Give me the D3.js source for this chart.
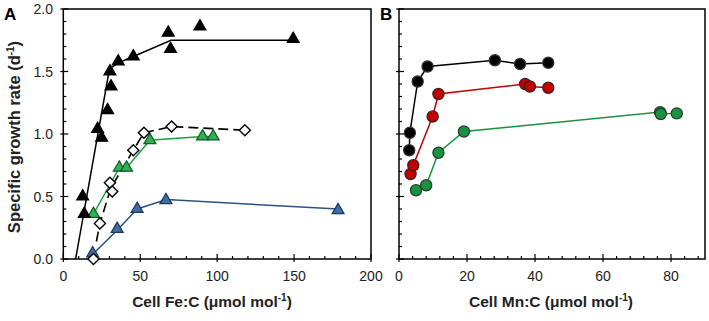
<!DOCTYPE html>
<html><head><meta charset="utf-8">
<script src="https://cdn.jsdelivr.net/npm/d3@7"></script>
<style>
html,body{margin:0;padding:0;background:#fff;}
svg{display:block;font-family:"Liberation Sans",Arial,sans-serif;}
</style></head>
<body>
<svg id="chart" width="709" height="321"></svg>
<script>
// ---------- data ----------
const feTicks = [0, 50, 100, 150, 200];
const mnTicks = [0, 20, 40, 60, 80];
const rateTicks = [0.0, 0.5, 1.0, 1.5, 2.0];

// Panel A (Fe:C)
const feBlackX = [12.6, 13.6, 22.3, 24.9, 28.8, 31.0, 30.3, 35.7, 45.5, 68.2, 69.7, 88.8, 149.4];
const feBlackY = [0.50, 0.36, 1.04, 0.97, 1.19, 1.38, 1.50, 1.58, 1.62, 1.81, 1.68, 1.86, 1.76];
const feBlackFitX = [8, 30, 36, 45.5, 70, 150];
const feBlackFitY = [0, 1.52, 1.57, 1.62, 1.75, 1.75];

const feGreenX = [19.6, 36.4, 41.1, 56.3, 90.5, 97.4];
const feGreenY = [0.36, 0.73, 0.73, 0.95, 0.98, 0.98];

const feOpenX = [19.6, 23.8, 30.3, 31.8, 45.5, 52.4, 70.4, 118];
const feOpenY = [0.0, 0.285, 0.61, 0.54, 0.87, 1.01, 1.06, 1.03];
const feOpenFitX = [21.5, 23.8, 31.0, 45.5, 52.4, 70.4, 118];
const feOpenFitY = [0.14, 0.285, 0.57, 0.87, 1.01, 1.06, 1.03];

const feBlueX = [19.1, 35.0, 48.0, 66.7, 178.6];
const feBlueY = [0.045, 0.24, 0.40, 0.47, 0.39];
const feBlueFitX = [16, 35, 48, 67, 179];
const feBlueFitY = [0, 0.23, 0.40, 0.475, 0.40];

// Panel B (Mn:C)
const mnBlackX = [3.0, 3.2, 5.5, 8.4, 28.2, 35.6, 43.9];
const mnBlackY = [0.87, 1.01, 1.42, 1.54, 1.59, 1.56, 1.57];
const mnRedX = [3.4, 4.2, 9.9, 11.6, 37.1, 38.5, 43.9];
const mnRedY = [0.68, 0.75, 1.14, 1.32, 1.40, 1.38, 1.37];
const mnGreenX = [5.0, 8.0, 11.6, 19.1, 76.8, 77.0, 81.7];
const mnGreenY = [0.55, 0.59, 0.85, 1.02, 1.175, 1.16, 1.165];

// ---------- drawing ----------
const svg = d3.select("#chart");
const zip = (xs, ys) => xs.map((x, i) => [x, ys[i]]);

const plotTop = 9, plotBottom = 259;
const y = d3.scaleLinear().domain([0, 2]).range([plotBottom, plotTop]);
const xA = d3.scaleLinear().domain([0, 200]).range([63.3, 371]);
const xB = d3.scaleLinear().domain([0, 90]).range([399, 705]);

function frame(x) {
  const g = svg.append("g");
  const [x0, x1] = x.range();
  g.append("rect").attr("x", x0).attr("y", plotTop).attr("width", x1 - x0).attr("height", plotBottom - plotTop)
    .attr("fill", "none").attr("stroke", "#000").attr("stroke-width", 1.5);
  return g;
}

function xTicks(g, x, major, minorStep, labels) {
  const [d0, d1] = x.domain();
  const minors = d3.range(d0, d1 + 1e-9, minorStep);
  g.selectAll(null).data(minors).enter().append("line")
    .attr("x1", d => x(d)).attr("x2", d => x(d))
    .attr("y1", plotBottom).attr("y2", d => major.includes(d) ? plotBottom - 5 : plotBottom - 3)
    .attr("stroke", "#000").attr("stroke-width", 1.2);
  g.selectAll(null).data(major).enter().append("line")
    .attr("x1", d => x(d)).attr("x2", d => x(d))
    .attr("y1", plotBottom).attr("y2", plotBottom + 3)
    .attr("stroke", "#000").attr("stroke-width", 1.2);
  if (labels) {
    g.selectAll(null).data(major).enter().append("text")
      .attr("x", d => x(d)).attr("y", 281).attr("text-anchor", "middle")
      .attr("font-size", 14).attr("fill", "#222").text(d => d);
  }
}

function yTicks(g, x0, labels) {
  const minors = d3.range(0, 2.0001, 0.1);
  g.selectAll(null).data(minors).enter().append("line")
    .attr("x1", x0).attr("x2", d => Math.abs(d * 2 - Math.round(d * 2)) < 1e-6 ? x0 + 5 : x0 + 3)
    .attr("y1", d => y(d)).attr("y2", d => y(d))
    .attr("stroke", "#000").attr("stroke-width", 1.2);
  g.selectAll(null).data(rateTicks).enter().append("line")
    .attr("x1", x0 - 3).attr("x2", x0)
    .attr("y1", d => y(d)).attr("y2", d => y(d))
    .attr("stroke", "#000").attr("stroke-width", 1.2);
  if (labels) {
    g.selectAll(null).data(rateTicks).enter().append("text")
      .attr("x", 53).attr("y", d => y(d) + 5).attr("text-anchor", "end")
      .attr("font-size", 14).attr("fill", "#222").text(d => d.toFixed(1));
  }
}

function line(g, x, pts, color, width, dash) {
  g.append("path").datum(pts)
    .attr("d", d3.line().x(d => x(d[0])).y(d => y(d[1])))
    .attr("fill", "none").attr("stroke", color).attr("stroke-width", width)
    .attr("stroke-dasharray", dash || null);
}

function markers(g, x, pts, type, size, fill, stroke, rot, sw) {
  g.selectAll(null).data(pts).enter().append("path")
    .attr("d", d3.symbol().type(type).size(size))
    .attr("transform", d => `translate(${x(d[0])},${y(d[1])})` + (rot ? ` rotate(${rot})` : ""))
    .attr("fill", fill).attr("stroke", stroke).attr("stroke-width", sw || 1.2);
}

// Panel A
const gA = frame(xA);
xTicks(gA, xA, feTicks, 10, true);
yTicks(gA, 63.3, true);
line(gA, xA, zip(feBlueFitX, feBlueFitY), "#2c5282", 1.5);
line(gA, xA, zip(feGreenX, feGreenY), "#1f9e3f", 1.5);
line(gA, xA, zip(feOpenFitX, feOpenFitY), "#000", 1.6, "10,5");
line(gA, xA, zip(feBlackFitX, feBlackFitY), "#000", 1.5);
markers(gA, xA, zip(feBlueX, feBlueY), d3.symbolTriangle, 62, "#3c6eac", "#1d3657");
markers(gA, xA, zip(feGreenX, feGreenY), d3.symbolTriangle, 62, "#2cb34f", "#155a2a");
markers(gA, xA, zip(feOpenX, feOpenY), d3.symbolSquare, 62, "#fff", "#000", 45, 1.4);
markers(gA, xA, zip(feBlackX, feBlackY), d3.symbolTriangle, 62, "#000", "#000");

// Panel B
const gB = frame(xB);
xTicks(gB, xB, mnTicks, 4, true);
yTicks(gB, 399, false);
line(gB, xB, zip(mnGreenX, mnGreenY), "#17923f", 1.5);
line(gB, xB, zip(mnRedX, mnRedY), "#c00000", 1.5);
line(gB, xB, zip(mnBlackX, mnBlackY), "#000", 1.5);
markers(gB, xB, zip(mnGreenX, mnGreenY), d3.symbolCircle, Math.PI * 5.6 * 5.6, "#17923f", "#2b3a2e");
markers(gB, xB, zip(mnRedX, mnRedY), d3.symbolCircle, Math.PI * 5.6 * 5.6, "#c00000", "#3a2020");
markers(gB, xB, zip(mnBlackX, mnBlackY), d3.symbolCircle, Math.PI * 5.6 * 5.6, "#000", "#333");

// Panel letters
svg.append("text").attr("x", 4).attr("y", 20).attr("font-size", 17).attr("font-weight", "bold").text("A");
svg.append("text").attr("x", 380).attr("y", 20).attr("font-size", 17).attr("font-weight", "bold").text("B");

// Axis titles
const yt = svg.append("text").attr("transform", "translate(20,137) rotate(-90)")
  .attr("text-anchor", "middle").attr("font-size", 16.5).attr("font-weight", "bold").attr("fill", "#222");
yt.append("tspan").text("Specific growth rate (d");
yt.append("tspan").attr("font-size", 10).attr("dy", -6).text("-1");
yt.append("tspan").attr("dy", 6).text(")");

function xTitle(cx, label) {
  const t = svg.append("text").attr("x", cx).attr("y", 307).attr("text-anchor", "middle")
    .attr("font-size", 15.5).attr("font-weight", "bold").attr("fill", "#222");
  t.append("tspan").text(label + " (μmol mol");
  t.append("tspan").attr("font-size", 10).attr("dy", -6).text("-1");
  t.append("tspan").attr("dy", 6).text(")");
}
xTitle(212, "Cell Fe:C");
xTitle(551, "Cell Mn:C");
</script>
</body></html>
